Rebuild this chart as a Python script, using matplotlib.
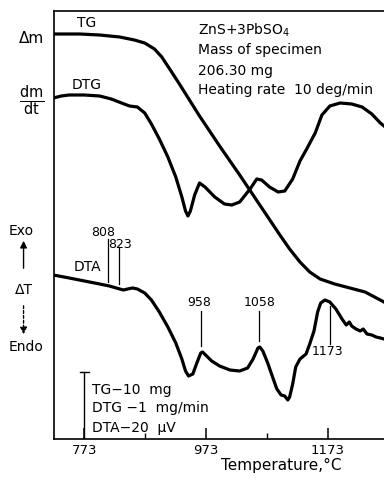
#! /usr/bin/env python3
import matplotlib
matplotlib.use("Agg")
import matplotlib.pyplot as plt

# temperatures (deg C) and signals (arbitrary chart units)
tg_temp = [722, 765, 798, 831, 855, 872, 888, 900, 913, 929, 962, 995, 1028, 1061,
           1094, 1110, 1127, 1143, 1160, 1184, 1209, 1234, 1265, 1275]
tg_val = [405, 405, 404, 402, 399, 396, 390, 382, 370, 355, 323, 293, 264, 234,
          204, 190, 177, 167, 160, 155, 151, 147, 137, 132]

dtg_temp = [722, 735, 748, 773, 798, 817, 834, 847, 860, 872, 883, 896, 910, 923,
            933, 939, 943, 947, 954, 962, 971, 987, 1003, 1015, 1028, 1045, 1056,
            1064, 1077, 1091, 1102, 1115, 1127, 1138, 1152, 1163, 1176, 1193, 1212,
            1229, 1245, 1259, 1265, 1275]
dtg_val = [341, 343, 344, 344, 343, 340, 336, 333, 332, 326, 315, 300, 282, 262,
           242, 228, 223, 228, 244, 256, 252, 242, 235, 234, 237, 250, 260,
           259, 252, 247, 248, 260, 278, 290, 306, 324, 333, 336, 335,
           332, 325, 316, 313, 308]

dta_temp = [722, 748, 773, 798, 814, 831, 837, 844, 852, 860, 872, 883, 896, 910,
            923, 933, 939, 944, 951, 957, 964, 967, 972, 982, 995, 1012, 1028, 1041,
            1050, 1058, 1061, 1066, 1074, 1082, 1089, 1096, 1102, 1107, 1110, 1115,
            1120, 1127, 1137, 1143, 1150, 1156, 1161, 1168, 1176, 1186, 1196, 1203,
            1208, 1212, 1219, 1226, 1231, 1237, 1245, 1252, 1259, 1265]
dta_val = [164, 161, 158, 155, 153, 150, 149, 150, 151, 150, 146, 139, 127, 112,
           96, 80, 68, 63, 65, 75, 86, 87, 84, 78, 73, 69, 68, 71,
           80, 91, 92, 88, 76, 62, 50, 44, 43, 39, 42, 55,
           72, 80, 85, 95, 108, 127, 136, 139, 137, 130, 120, 114,
           117, 113, 110, 108, 110, 105, 104, 102, 101, 100]

# DTA peak marks: position on the trace, label text
peak_temp = [811, 829, 965, 1060, 1176]
peak_labels = ["808", "823", "958", "1058", "1173"]

major_ticks = [773, 973, 1173]
minor_ticks = [873, 1073]

info_lines = ["ZnS+3PbSO$_4$", "Mass of specimen", "206.30 mg",
              "Heating rate  10 deg/min"]
scale_lines = ["TG\u221210  mg", "DTG \u22121  mg/min", "DTA\u221220  \u03bcV"]


def main():
    fig = plt.figure(figsize=(3.84, 4.81), dpi=100)
    ax = fig.add_axes([54 / 384, 41 / 481, 330 / 384, 428 / 481])
    ax.set_xlim(723, 1265)
    ax.set_ylim(0, 428)

    kw = dict(color="black", lw=2.3, solid_joinstyle="round", solid_capstyle="round")
    ax.plot(tg_temp, tg_val, **kw)
    ax.plot(dtg_temp, dtg_val, **kw)
    ax.plot(dta_temp, dta_val, **kw)

    for s in ["left", "bottom", "top"]:
        ax.spines[s].set_linewidth(1.2)
    ax.spines["right"].set_visible(False)
    ax.set_yticks([])
    ax.set_xticks(major_ticks)
    ax.set_xticks(minor_ticks, minor=True)
    ax.tick_params(axis="x", which="major", direction="in", length=8, width=1.1,
                   labelsize=9.5, pad=3)
    ax.tick_params(axis="x", which="minor", direction="in", length=4, width=1.0)

    # peak marks on DTA
    mark_kw = dict(color="black", lw=0.9)
    ax.plot([peak_temp[0]] * 2, [157, 200], **mark_kw)
    ax.text(peak_temp[0] - 8, 208, peak_labels[0], ha="center", va="center", fontsize=9)
    ax.plot([peak_temp[1]] * 2, [155, 192], **mark_kw)
    ax.text(peak_temp[1] + 2, 195, peak_labels[1], ha="center", va="center", fontsize=9)
    ax.plot([peak_temp[2]] * 2, [93, 128], **mark_kw)
    ax.text(peak_temp[2] - 3, 137, peak_labels[2], ha="center", va="center", fontsize=9)
    ax.plot([peak_temp[3]] * 2, [98, 128], **mark_kw)
    ax.text(peak_temp[3], 137, peak_labels[3], ha="center", va="center", fontsize=9)
    ax.plot([peak_temp[4]] * 2, [95, 133], **mark_kw)
    ax.text(peak_temp[4] - 4, 88, peak_labels[4], ha="center", va="center", fontsize=9)

    # curve names
    ax.text(776, 417, "TG", ha="center", va="center", fontsize=10)
    ax.text(776, 355, "DTG", ha="center", va="center", fontsize=10)
    ax.text(778, 173, "DTA", ha="center", va="center", fontsize=10)

    # specimen info
    for y, line in zip([410, 390, 369, 350], info_lines):
        ax.text(959, y, line, ha="left", va="center", fontsize=10)

    # scale bar
    ax.plot([773, 773], [0, 67], color="black", lw=1.0)
    ax.plot([765, 781], [67, 67], color="black", lw=1.0)
    for y, line in zip([50, 32, 12], scale_lines):
        ax.text(785, y, line, ha="left", va="center", fontsize=10)

    # left side labels
    ax.text(686, 402, "\u0394m", ha="center", va="center", fontsize=11, clip_on=False)
    ax.text(687, 339, r"$\frac{\mathrm{dm}}{\mathrm{dt}}$", ha="center", va="center",
            fontsize=15, clip_on=False)
    ax.text(669, 209, "Exo", ha="center", va="center", fontsize=10, clip_on=False)
    ax.text(674, 150, "\u0394T", ha="center", va="center", fontsize=10, clip_on=False)
    ax.text(677, 93, "Endo", ha="center", va="center", fontsize=10, clip_on=False)
    ax.annotate("", xy=(673, 201), xytext=(673, 168), annotation_clip=False,
                arrowprops=dict(arrowstyle="-|>", color="black", lw=1.0,
                                mutation_scale=10))
    ax.annotate("", xy=(673, 102), xytext=(673, 136), annotation_clip=False,
                arrowprops=dict(arrowstyle="-|>", color="black", lw=1.0,
                                linestyle=(0, (2, 1.5)), mutation_scale=10))

    ax.text(1097, -25, "Temperature,\u00b0C", ha="center", va="center", fontsize=11,
            clip_on=False)

    fig.savefig("out.png", dpi=100)
    plt.close(fig)


if __name__ == "__main__":
    main()
